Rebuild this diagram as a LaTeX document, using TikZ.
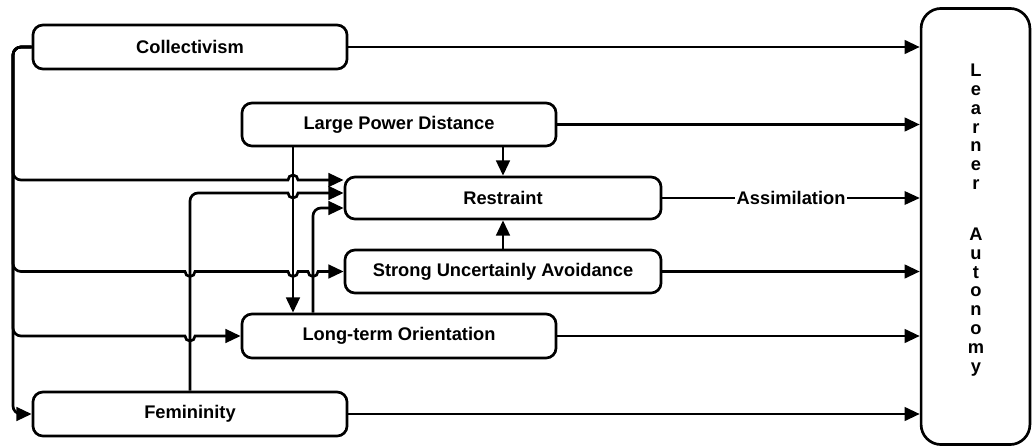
\documentclass[tikz,border=0pt]{standalone}
\usepackage{fontspec}
\setmainfont{Liberation Sans}
\usetikzlibrary{arrows.meta}

\begin{document}
\begin{tikzpicture}[x=0.025cm, y=-0.025cm, line width=1.9pt,
	font=\bfseries\fontsize{13}{15}\selectfont,
	box/.style={draw, rounded corners=0.25cm, minimum width=7.85cm, minimum height=1.1cm, inner sep=0pt},
	arr/.style={-{Triangle[length=0.38cm, width=0.34cm]}}]

	\useasboundingbox (0,0) rectangle (1032,447);

	% factors
	\node[box] (coll) at (190,47) {Collectivism};
	\node[box, minimum height=1.075cm] (lpd) at (399,124.5) {Large Power Distance};
	\node[box, minimum width=7.9cm, minimum height=1.05cm] (restr) at (503,198) {Restraint};
	\node[box, minimum width=7.9cm, minimum height=1.075cm] (sua) at (503,271.5) {Strong Uncertainly Avoidance};
	\node[box] (lto) at (399,336) {Long-term Orientation};
	\node[box] (fem) at (190,414) {Femininity};

	% outcome
	\node[draw, rounded corners=0.5cm, minimum width=2.72cm, minimum height=10.9cm] (la) at (975.5,226.5) {};
	\node[align=center, font=\bfseries\fontsize{13}{13.4}\selectfont] (latxt) at (976,220)
		{L\\e\\a\\r\\n\\e\\r\\[0.8cm]A\\u\\t\\o\\n\\o\\m\\y};

	% direct paths
	\foreach \n in {coll, lpd, sua, lto, fem}
		\draw[arr] (\n.east) -- (\n.east -| la.west);
	\draw[arr, line width=1.1pt] (restr.east) -- node[fill=white, inner sep=1pt] {Assimilation} (restr.east -| la.west);

	% vertical links
	\draw[arr] (lpd.south -| restr.north) -- (restr.north);
	\draw[arr] (sua.north) -- (restr.south);
	\draw[arr] ([xshift=-2.65cm]lpd.south) -- ([xshift=-2.65cm]lto.north);
	\draw[arr, rounded corners=0.2cm] ([xshift=-2.15cm]lto.north) |- ([yshift=-0.25cm]restr.west);
	\draw[arr] (fem.north) [rounded corners=0.2cm] -- (190,193) [sharp corners] -- (288,193)
		arc[start angle=180, end angle=360, radius=0.125cm] -- ([yshift=0.125cm]restr.west);

	% bus from collectivism
	\draw[arr] (coll.west) [rounded corners=0.2cm] -- (13,47) -- (13,180) [sharp corners] -- (288,180)
		arc[start angle=180, end angle=0, radius=0.125cm] -- ([yshift=0.45cm]restr.west);
	\draw[arr] (coll.west) [rounded corners=0.2cm] -- (13,47) -- (13,271.5) [sharp corners] -- (185,271.5)
		arc[start angle=180, end angle=360, radius=0.125cm] -- (288,271.5)
		arc[start angle=180, end angle=360, radius=0.125cm] -- (308,271.5)
		arc[start angle=180, end angle=360, radius=0.125cm] -- (sua.west);
	\draw[arr] (coll.west) [rounded corners=0.2cm] -- (13,47) -- (13,336) [sharp corners] -- (185,336)
		arc[start angle=180, end angle=360, radius=0.125cm] -- (lto.west);
	\draw[arr, rounded corners=0.2cm] (coll.west) -- (13,47) |- (fem.west);
\end{tikzpicture}
\end{document}
